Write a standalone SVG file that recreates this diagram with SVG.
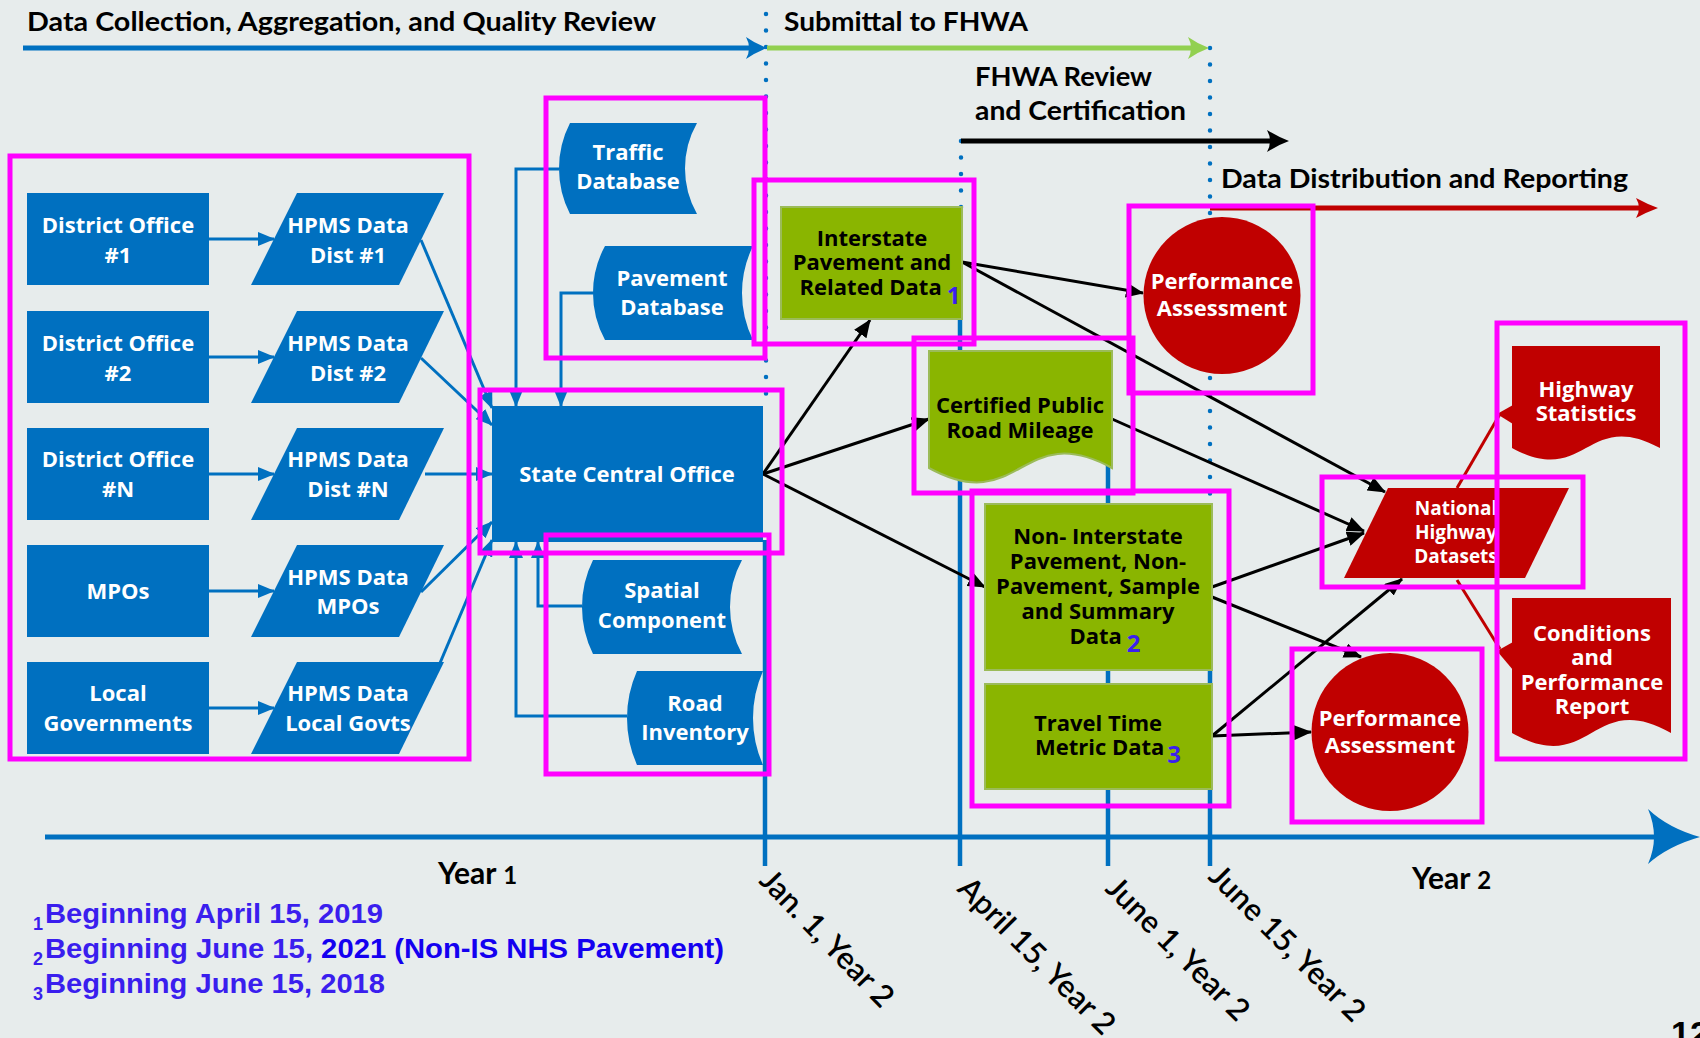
<svg xmlns="http://www.w3.org/2000/svg" width="1700" height="1038" viewBox="0 0 1700 1038">
<style>
.blue{fill:#0070C0}
.green{fill:#8AB500;stroke:#9BBB59;stroke-width:2}
.red{fill:#C00000}
.tw{font-family:"Open Sans","DejaVu Sans",sans-serif;font-weight:bold;font-size:22px;fill:#fff;text-anchor:middle}
.tk{font-family:"Open Sans","DejaVu Sans",sans-serif;font-weight:bold;font-size:22px;fill:#000;text-anchor:middle}
.sm{font-size:19px}
.sub{font-size:24px;fill:#3A1EF0}
.hl{fill:none;stroke:#FF00FF;stroke-width:5}
.bc{stroke:#0070C0;stroke-width:3;fill:none}
.kc{stroke:#000;stroke-width:3;fill:none}
.rc{stroke:#C00000;stroke-width:3;fill:none}
.dot{stroke:#0070C0;stroke-width:4.5;stroke-linecap:round;stroke-dasharray:0 16.5;fill:none}
.vl{stroke:#0070C0;stroke-width:4.5;fill:none}
.hd{font-family:Lato,"Open Sans",sans-serif;font-weight:bold;font-size:26px;fill:#000}
.yr{font-family:Lato,"Open Sans",sans-serif;font-weight:bold;font-size:30px;fill:#000}
.dt{font-family:Lato,"Open Sans",sans-serif;font-weight:600;font-size:31px;fill:#000}
.fn{font-family:"Liberation Sans",Arial,sans-serif;font-weight:bold;font-size:28px;fill:#3A1EEE}
.fs{font-size:18px}
</style>
<defs>
<marker id="ak" markerUnits="userSpaceOnUse" viewBox="0 0 18 15" refX="17" refY="7.5" markerWidth="18" markerHeight="15" orient="auto"><path d="M0,0 L18,7.5 L0,15 Z" fill="#000"/></marker>
<marker id="ab" markerUnits="userSpaceOnUse" viewBox="0 0 17 14" refX="16" refY="7" markerWidth="17" markerHeight="14" orient="auto"><path d="M0,0 L17,7 L0,14 Z" fill="#0070C0"/></marker>
</defs>
<rect width="1700" height="1038" fill="#E7ECEC"/>

<g id="timeline">
<path class="dot" d="M766,14 V406"/>
<path class="vl" d="M765,540 V866"/>
<path class="dot" d="M961,141 V208"/>
<path class="vl" d="M960,207 V866"/>
<path class="vl" d="M1108,460 V866"/>
<path class="dot" d="M1210,48 V505"/>
<path class="vl" d="M1210,505 V866"/>
<path d="M23,48 H752" stroke="#0070C0" stroke-width="5"/>
<path d="M767,48 Q756,44 746,37 Q752,48 746,59 Q756,52 767,48 Z" fill="#0070C0"/>
<path d="M767,48 H1196" stroke="#92D050" stroke-width="5"/>
<path d="M1209,48 Q1198,44 1188,37 Q1194,48 1188,59 Q1198,52 1209,48 Z" fill="#92D050"/>
<path d="M961,141 H1276" stroke="#000" stroke-width="5"/>
<path d="M1289,141 Q1278,137 1267,130 Q1273,141 1267,152 Q1278,145 1289,141 Z" fill="#000"/>
<path d="M1210,208 H1645" stroke="#C00000" stroke-width="5"/>
<path d="M1658,208 Q1647,204 1636,198 Q1642,208 1636,218 Q1647,212 1658,208 Z" fill="#C00000"/>
<path d="M45,837 H1660" stroke="#0070C0" stroke-width="5"/>
<path d="M1700,837 Q1668,828 1648,809 Q1660,837 1648,864 Q1668,846 1700,837 Z" fill="#0070C0"/>
<text class="hd" x="27" y="31" textLength="629" lengthAdjust="spacingAndGlyphs">Data Collection, Aggregation, and Quality Review</text>
<text class="hd" x="784" y="31" textLength="244" lengthAdjust="spacingAndGlyphs">Submittal to FHWA</text>
<text class="hd" x="975" y="86" textLength="177" lengthAdjust="spacingAndGlyphs">FHWA Review</text>
<text class="hd" x="975" y="120" textLength="211" lengthAdjust="spacingAndGlyphs">and Certification</text>
<text class="hd" x="1221" y="188" textLength="407" lengthAdjust="spacingAndGlyphs">Data Distribution and Reporting</text>
<text class="yr" x="438" y="884">Year <tspan font-size="24">1</tspan></text>
<text class="yr" x="1412" y="889">Year <tspan font-size="24">2</tspan></text>
<text class="dt" transform="translate(758,882) rotate(46)">Jan. 1, Year 2</text>
<text class="dt" transform="translate(956,890) rotate(45)">April 15, Year 2</text>
<text class="dt" transform="translate(1104,890) rotate(45)">June 1, Year 2</text>
<text class="dt" transform="translate(1207,878) rotate(45)">June 15, Year 2</text>
</g>

<g id="connectors">
<line class="bc" x1="209" y1="239" x2="274" y2="239" marker-end="url(#ab)"/>
<line class="bc" x1="209" y1="357" x2="274" y2="357" marker-end="url(#ab)"/>
<line class="bc" x1="209" y1="474" x2="274" y2="474" marker-end="url(#ab)"/>
<line class="bc" x1="209" y1="591" x2="274" y2="591" marker-end="url(#ab)"/>
<line class="bc" x1="209" y1="708" x2="274" y2="708" marker-end="url(#ab)"/>
<line class="bc" x1="421" y1="240" x2="492" y2="408" marker-end="url(#ab)"/>
<line class="bc" x1="421" y1="358" x2="492" y2="425" marker-end="url(#ab)"/>
<line class="bc" x1="425" y1="474" x2="492" y2="474" marker-end="url(#ab)"/>
<line class="bc" x1="421" y1="592" x2="492" y2="522" marker-end="url(#ab)"/>
<line class="bc" x1="440" y1="663" x2="492" y2="540" marker-end="url(#ab)"/>
<path class="bc" d="M559,169 H516 V406" marker-end="url(#ab)"/>
<path class="bc" d="M593,293 H561 V406" marker-end="url(#ab)"/>
<path class="bc" d="M582,606 H538 V542" marker-end="url(#ab)"/>
<path class="bc" d="M627,716 H516 V542" marker-end="url(#ab)"/>
<line class="kc" x1="763" y1="474" x2="870" y2="320" marker-end="url(#ak)"/>
<line class="kc" x1="763" y1="474" x2="929" y2="419" marker-end="url(#ak)"/>
<line class="kc" x1="763" y1="474" x2="985" y2="587" marker-end="url(#ak)"/>
<line class="kc" x1="962" y1="262" x2="1143" y2="293" marker-end="url(#ak)"/>
<line class="kc" x1="962" y1="262" x2="1385" y2="492" marker-end="url(#ak)"/>
<line class="kc" x1="1112" y1="419" x2="1364" y2="531" marker-end="url(#ak)"/>
<line class="kc" x1="1212" y1="587" x2="1364" y2="533" marker-end="url(#ak)"/>
<line class="kc" x1="1212" y1="597" x2="1361" y2="657" marker-end="url(#ak)"/>
<line class="kc" x1="1212" y1="736" x2="1311" y2="732" marker-end="url(#ak)"/>
<line class="kc" x1="1212" y1="736" x2="1402" y2="579" marker-end="url(#ak)"/>
<line class="rc" x1="1457" y1="488" x2="1500" y2="414"/>
<line class="rc" x1="1457" y1="580" x2="1500" y2="649"/>
<polygon points="1497,414 1513,405 1513,424" fill="#C00000"/>
<polygon points="1497,651 1513,642 1513,670" fill="#C00000"/>
</g>

<g id="district1"><rect class="blue" x="27" y="193" width="182" height="92"/><text class="tw" x="118" y="233">District Office</text><text class="tw" x="118" y="263">#1</text></g>
<g id="district2"><rect class="blue" x="27" y="311" width="182" height="92"/><text class="tw" x="118" y="351">District Office</text><text class="tw" x="118" y="381">#2</text></g>
<g id="districtN"><rect class="blue" x="27" y="428" width="182" height="92"/><text class="tw" x="118" y="467">District Office</text><text class="tw" x="118" y="497">#N</text></g>
<g id="mpos"><rect class="blue" x="27" y="545" width="182" height="92"/><text class="tw" x="118" y="599">MPOs</text></g>
<g id="localgov"><rect class="blue" x="27" y="662" width="182" height="92"/><text class="tw" x="118" y="701">Local</text><text class="tw" x="118" y="731">Governments</text></g>

<g id="hpms1"><polygon class="blue" points="297,193 444,193 399,285 251,285"/><text class="tw" x="348" y="233">HPMS Data</text><text class="tw" x="348" y="263">Dist #1</text></g>
<g id="hpms2"><polygon class="blue" points="297,311 444,311 399,403 251,403"/><text class="tw" x="348" y="351">HPMS Data</text><text class="tw" x="348" y="381">Dist #2</text></g>
<g id="hpmsN"><polygon class="blue" points="297,428 444,428 399,520 251,520"/><text class="tw" x="348" y="467">HPMS Data</text><text class="tw" x="348" y="497">Dist #N</text></g>
<g id="hpmsMPO"><polygon class="blue" points="297,545 444,545 399,637 251,637"/><text class="tw" x="348" y="585">HPMS Data</text><text class="tw" x="348" y="614">MPOs</text></g>
<g id="hpmsLocal"><polygon class="blue" points="297,662 444,662 399,754 251,754"/><text class="tw" x="348" y="701">HPMS Data</text><text class="tw" x="348" y="731">Local Govts</text></g>

<g id="traffic"><path class="blue" d="M570,123 H697 A92.3,92.3 0 0 0 697,214 H570 A99.6,99.6 0 0 1 570,123 Z"/><text class="tw" x="628" y="160">Traffic</text><text class="tw" x="628" y="189">Database</text></g>
<g id="pavement"><path class="blue" d="M605,246 H753 A105.9,105.9 0 0 0 753,340 H605 A98,98 0 0 1 605,246 Z"/><text class="tw" x="672" y="286">Pavement</text><text class="tw" x="672" y="315">Database</text></g>
<g id="office"><rect class="blue" x="492" y="406" width="271" height="136"/><text class="tw" x="627" y="482">State Central Office</text></g>
<g id="spatial"><path class="blue" d="M593,560 H742 A98,98 0 0 0 742,654 H593 A105.9,105.9 0 0 1 593,560 Z"/><text class="tw" x="662" y="598">Spatial</text><text class="tw" x="662" y="628">Component</text></g>
<g id="road"><path class="blue" d="M637,671 H763 A115.5,115.5 0 0 0 763,765 H637 A115.5,115.5 0 0 1 637,671 Z"/><text class="tw" x="695" y="711">Road</text><text class="tw" x="695" y="740">Inventory</text></g>

<g id="interstate"><rect class="green" x="781" y="207" width="181" height="112"/><text class="tk" x="872" y="246">Interstate</text><text class="tk" x="872" y="270">Pavement and</text><text class="tk" x="880" y="295">Related Data<tspan class="sub" dx="5" dy="9">1</tspan></text></g>
<g id="certified"><path class="green" d="M929,351 H1112 V468 C1020.5,418 1020.5,518 929,468 Z"/><text class="tk" x="1020" y="413">Certified Public</text><text class="tk" x="1020" y="438">Road Mileage</text></g>
<g id="noninterstate"><rect class="green" x="985" y="504" width="227" height="166"/><text class="tk" x="1098" y="544">Non- Interstate</text><text class="tk" x="1098" y="569">Pavement, Non-</text><text class="tk" x="1098" y="594">Pavement, Sample</text><text class="tk" x="1098" y="619">and Summary</text><text class="tk" x="1105" y="644">Data<tspan class="sub" dx="5" dy="8">2</tspan></text></g>
<g id="traveltime"><rect class="green" x="985" y="684" width="227" height="105"/><text class="tk" x="1098" y="731">Travel Time</text><text class="tk" x="1108" y="755">Metric Data<tspan class="sub" dx="3" dy="8">3</tspan></text></g>

<g id="perf1"><circle class="red" cx="1222" cy="295.5" r="78.5"/><text class="tw" x="1222" y="289">Performance</text><text class="tw" x="1222" y="316">Assessment</text></g>
<g id="perf2"><ellipse class="red" cx="1390" cy="732" rx="78.5" ry="79"/><text class="tw" x="1390" y="726">Performance</text><text class="tw" x="1390" y="753">Assessment</text></g>
<g id="national"><polygon class="red" points="1388,488 1569,488 1525,578 1344,578"/><text class="tw sm" x="1456" y="515">National</text><text class="tw sm" x="1456" y="539">Highway</text><text class="tw sm" x="1456" y="563">Datasets</text></g>
<g id="hwystats"><path class="red" d="M1512,346 H1660 V448 C1586,408 1586,488 1512,448 Z"/><text class="tw" x="1586" y="397">Highway</text><text class="tw" x="1586" y="421">Statistics</text></g>
<g id="cpreport"><path class="red" d="M1512,598 H1671 V733 C1591.5,688 1591.5,778 1512,733 Z"/><text class="tw" x="1592" y="641">Conditions</text><text class="tw" x="1592" y="665">and</text><text class="tw" x="1592" y="690">Performance</text><text class="tw" x="1592" y="714">Report</text></g>

<g id="highlights">
<rect class="hl" x="10" y="156" width="459" height="603"/>
<rect class="hl" x="546" y="98" width="219" height="260"/>
<rect class="hl" x="480" y="390" width="302" height="163"/>
<rect class="hl" x="546" y="535" width="223" height="239"/>
<rect class="hl" x="754" y="180" width="220" height="164"/>
<rect class="hl" x="914" y="338" width="219" height="155"/>
<rect class="hl" x="972" y="491" width="257" height="315"/>
<rect class="hl" x="1129" y="206" width="184" height="187"/>
<rect class="hl" x="1322" y="477" width="261" height="110"/>
<rect class="hl" x="1292" y="649" width="190" height="173"/>
<rect class="hl" x="1497" y="323" width="188" height="436"/>
</g>

<g id="footnotes">
<text class="fn fs" x="33" y="930">1</text>
<text class="fn" x="45" y="923" textLength="338" lengthAdjust="spacingAndGlyphs">Beginning April 15, 2019</text>
<text class="fn fs" x="33" y="965">2</text>
<text class="fn" x="45" y="958" textLength="679" lengthAdjust="spacingAndGlyphs">Beginning June 15, <tspan fill="#1400F0">2021 (Non-IS NHS Pavement)</tspan></text>
<text class="fn fs" x="33" y="1000">3</text>
<text class="fn" x="45" y="993" textLength="340" lengthAdjust="spacingAndGlyphs">Beginning June 15, 2018</text>
<text x="1671" y="1045" font-family="Liberation Sans, Arial, sans-serif" font-weight="bold" font-size="34" fill="#000">12</text>
</g>
</svg>
